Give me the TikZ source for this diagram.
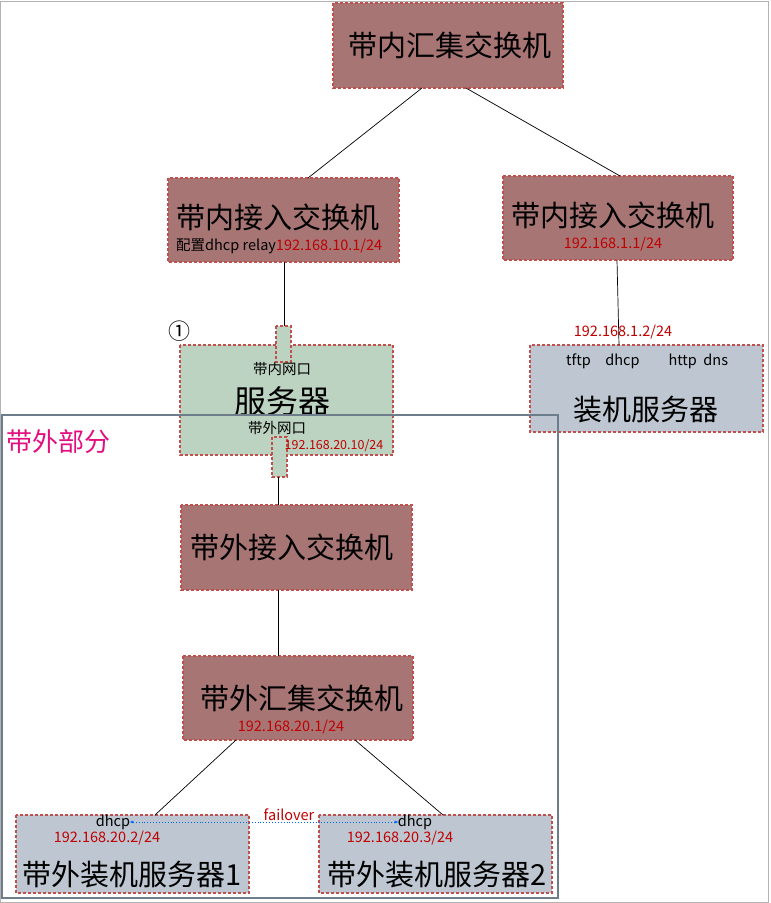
\documentclass[tikz,border=0pt]{standalone}
\usepackage{fontspec}
\setmainfont{Noto Sans CJK SC}
\usetikzlibrary{arrows.meta}
\definecolor{rosefill}{HTML}{A87575}
\definecolor{dashc}{HTML}{C0504D}
\definecolor{greenfill}{HTML}{BDD3C2}
\definecolor{grayfill}{HTML}{BEC7D1}
\definecolor{framec}{HTML}{6D7D8B}
\definecolor{ipred}{HTML}{C00000}
\tikzset{
  box/.style={draw=dashc, dashed, line width=1.6pt, dash pattern=on 3pt off 2pt},
  rose/.style={box, fill=rosefill},
  green/.style={box, fill=greenfill},
  gray/.style={box, fill=grayfill},
  big/.style={font=\fontsize{29}{31}\selectfont},
  small/.style={font=\fontsize{14.5}{15}\selectfont},
  ip/.style={font=\fontsize{14.5}{15}\selectfont, text=ipred},
  link/.style={draw=black, line width=0.7pt}
}
\begin{document}
\begin{tikzpicture}[x=1pt,y=-1pt]
\useasboundingbox (0,0) rectangle (771,903);
\fill[white] (0,0) rectangle (771,903);
\draw[gray!60, line width=0.5pt] (0.5,1) rectangle (768,902);
% frames
\path[rose] (333,3) rectangle (563,88);
\node[big] (hj) at (450,45) {带内汇集交换机};
\path[rose] (168,178) rectangle (399,262);
\node[big] (ja) at (278,217) {带内接入交换机};
\node[font=\fontsize{14.5}{15}\selectfont,anchor=west,inner sep=0pt] (jat) at (176,246) {配置dhcp relay\textcolor{ipred}{192.168.10.1/24}};
\path[rose] (503,176) rectangle (733,260);
\node[big] (jb) at (613,215) {带内接入交换机};
\node[ip] (jbip) at (613,244) {192.168.1.1/24};
% server
\path[green] (180,345) rectangle (393,455);
\path[green] (276,326) rectangle (291,362);
\path[green] (272,437) rectangle (287,477);
\coordinate (pu) at (284,326);
\coordinate (pd) at (278,477);
\node[small] (np) at (282,369) {带内网口};
\node[font=\fontsize{32}{34}\selectfont] (srv) at (282,401) {服务器};
\node[small] (wp) at (277,428) {带外网口};
\node[font=\fontsize{12.5}{13}\selectfont, text=ipred] (sip) at (334,446) {192.168.20.10/24};
\node[font=\fontsize{22}{22}\selectfont] (one) at (179,331) {①};
% install server
\path[gray] (530,345) rectangle (763,432);
\node[small,anchor=west,inner sep=0pt] (tftp) at (566,361) {tftp\quad dhcp\qquad http\ \ dns};
\node[big] (zj) at (646,410) {装机服务器};
\node[ip] (zjip) at (623,332) {192.168.1.2/24};
\coordinate (zjt) at (619,345);
% outband frame
\draw[framec, line width=2pt] (2,415) rectangle (558,898);
\node[font=\fontsize{26}{28}\selectfont, text=magenta!80!purple, anchor=west, inner sep=0pt] (wb) at (6,442) {带外部分};
\path[rose] (181,505) rectangle (412,590);
\node[big] (wa) at (292,547) {带外接入交换机};
\path[rose] (183,656) rectangle (413,740);
\node[big] (wh) at (302,698) {带外汇集交换机};
\node[ip] (whip) at (291,727) {192.168.20.1/24};
\path[gray] (16,815) rectangle (249,893);
\node[big] (s1) at (132,875) {带外装机服务器1};
\node[ip, inner sep=0pt] (s1ip) at (107,838) {192.168.20.2/24};
\node[small, inner sep=0pt] (d1) at (113,822) {dhcp};
\path[gray] (319,815) rectangle (552,893);
\node[big] (s2) at (437,875) {带外装机服务器2};
\node[ip, inner sep=0pt] (s2ip) at (400,838) {192.168.20.3/24};
\node[small, inner sep=0pt] (d2) at (415,822) {dhcp};
\node[font=\fontsize{14.5}{15}\selectfont, text=ipred] (fo) at (289,815) {failover};
\draw[{Latex[length=4pt]}-{Latex[length=4pt]}, draw=blue!60!cyan, dotted, line width=0.9pt] ([xshift=-1pt]d1.east) -- ([xshift=1pt]d2.west);
% links
\draw[link] (422,88) -- (308,178);
\draw[link] (466,88) -- (620,176);
\draw[link] (284,262) -- (pu);
\draw[link] (617,260) -- (zjt);
\draw[link] (pd) -- (278,505);
\draw[link] (278,590) -- (278,656);
\draw[link] (236,740) -- (155,815);
\draw[link] (355,740) -- (443,815);
\end{tikzpicture}
\end{document}
